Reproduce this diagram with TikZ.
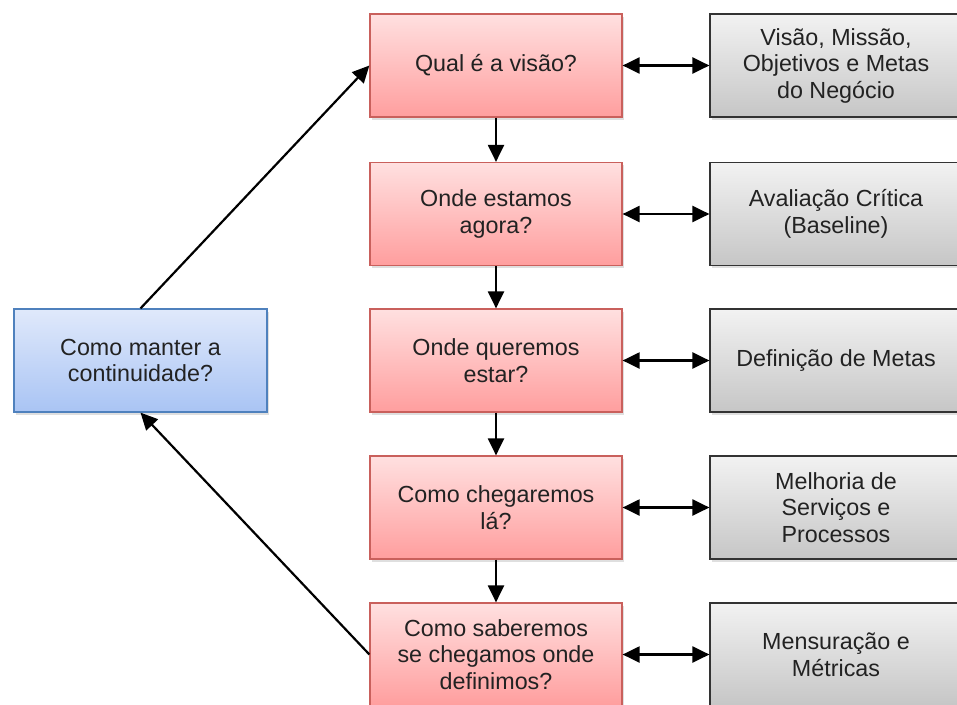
\documentclass[tikz,border=0pt]{standalone}
\usepackage{fontspec}
\setmainfont{Liberation Sans}
\usetikzlibrary{arrows.meta,shadows}
\definecolor{redtop}{HTML}{FFE0E0}
\definecolor{redbot}{HTML}{FF9E9E}
\definecolor{redline}{HTML}{C9605C}
\definecolor{bluetop}{HTML}{E0E9FB}
\definecolor{bluebot}{HTML}{A9C4F4}
\definecolor{blueline}{HTML}{4F81BD}
\definecolor{graytop}{HTML}{F2F2F2}
\definecolor{graybot}{HTML}{C6C6C6}
\definecolor{grayline}{HTML}{333333}
\definecolor{txt}{HTML}{222222}
\tikzset{
  boxbase/.style={minimum width=252pt, minimum height=103pt, align=center,
    text=txt, font=\fontsize{23.3}{26.5}\selectfont, inner sep=2pt,
    drop shadow={shadow xshift=1.5pt, shadow yshift=-2.5pt, opacity=0.25}},
  redbox/.style={boxbase, draw=redline, line width=1.2pt, top color=redtop, bottom color=redbot},
  graybox/.style={boxbase, draw=grayline, line width=1.2pt, top color=graytop, bottom color=graybot},
  bluebox/.style={boxbase, minimum width=253pt, draw=blueline, line width=1.2pt, top color=bluetop, bottom color=bluebot},
  tipshape/.tip={Triangle[length=17pt,width=16pt]},
  conn/.style={line width=2.2pt, -tipshape},
  dconn/.style={line width=2.2pt, tipshape-tipshape}
}
\begin{document}
\begin{tikzpicture}[x=1pt,y=-1pt]
\useasboundingbox (0,0) rectangle (957,704);
\clip (0,0) rectangle (957,704);
\node[redbox] (r1) at (496,65.5) {Qual é a visão?};
\node[redbox] (r2) at (496,214) {Onde estamos\\agora?};
\node[redbox] (r3) at (496,360.5) {Onde queremos\\estar?};
\node[redbox] (r4) at (496,507.5) {Como chegaremos\\lá?};
\node[redbox] (r5) at (496,654.5) {Como saberemos\\se chegamos onde\\definimos?};
\node[graybox] (g1) at (836,65.5) {Visão, Missão,\\Objetivos e Metas\\do Negócio};
\node[graybox] (g2) at (836,214) {Avaliação Crítica\\(Baseline)};
\node[graybox] (g3) at (836,360.5) {Definição de Metas};
\node[graybox] (g4) at (836,507.5) {Melhoria de\\Serviços e\\Processos};
\node[graybox] (g5) at (836,654.5) {Mensuração e\\Métricas};
\node[bluebox] (b) at (140.5,360.5) {Como manter a\\continuidade?};
\draw[conn] (r1) -- (r2);
\draw[conn] (r2) -- (r3);
\draw[conn] (r3) -- (r4);
\draw[conn] (r4) -- (r5);
\draw[dconn] (r1) -- (g1);
\draw[dconn] (r2) -- (g2);
\draw[dconn] (r3) -- (g3);
\draw[dconn] (r4) -- (g4);
\draw[dconn] (r5) -- (g5);
\draw[conn] (b.north) -- (r1.west);
\draw[conn] (r5.west) -- (b.south);
\end{tikzpicture}
\end{document}
